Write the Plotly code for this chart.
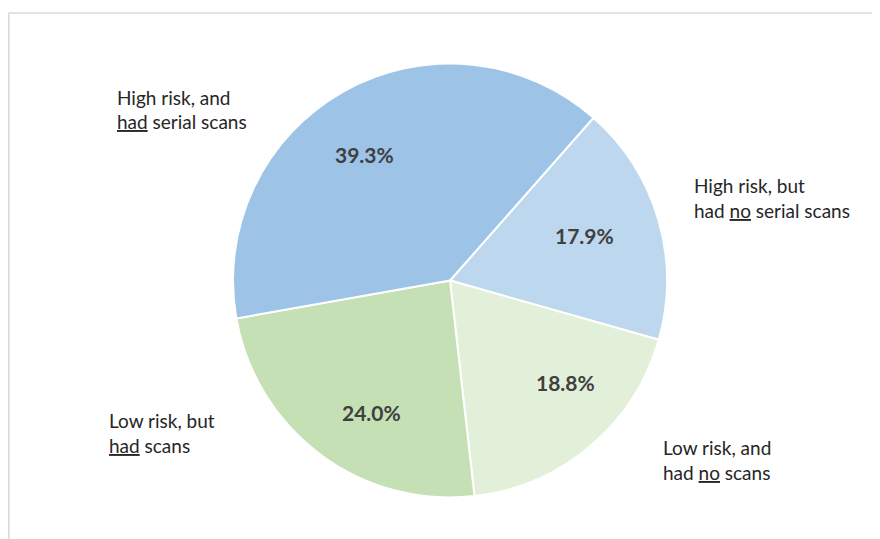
import plotly.graph_objects as go

# ---- data ----
categories = ["High risk, but had no serial scans", "Low risk, and had no scans",
              "Low risk, but had scans", "High risk, and had serial scans"]
shares = [17.9, 18.8, 24.0, 39.3]
label_lines = [
    ["High risk, but", "had <u>no</u> serial scans"],
    ["Low risk, and", "had <u>no</u> scans"],
    ["Low risk, but", "<u>had</u> scans"],
    ["High risk, and", "<u>had</u> serial scans"],
]
colors = ["#BDD7EE", "#E2F0D9", "#C5E0B4", "#9DC3E6"]

W, H = 880, 539
OFF = 8  # page body margin
CX, CY, R = 450, 280.5, 217
START_ANGLE = 41.4


def px(x):
    return (x - OFF) / W


def py(y):
    return 1 - (y - OFF) / H


fig = go.Figure()
fig.add_trace(go.Pie(
    labels=categories, values=shares, sort=False, direction="clockwise",
    rotation=START_ANGLE, marker=dict(colors=colors, line=dict(color="white", width=2)),
    textinfo="none", hoverinfo="label+percent", showlegend=False,
    domain=dict(x=[px(CX - R), px(CX + R)], y=[py(CY + R), py(CY - R)]),
))

annotations = []
# percentage labels (centre positions in page pixels)
pct_pos = [(584, 235.5), (565.5, 382.5), (371, 412), (364, 154.5)]
for (x, y), v in zip(pct_pos, shares):
    annotations.append(dict(
        x=px(x), y=py(y), xref="paper", yref="paper", showarrow=False,
        text=f"<b>{v:.1f}%</b>", font=dict(family="Lato", size=21, color="#404040"),
        xanchor="center", yanchor="middle"))

# category labels (left x, first line centre y)
label_pos = [(692, 185.5), (661, 447.5), (107, 420.5), (115, 97)]
for (lx, ly), lines in zip(label_pos, label_lines):
    for i, t in enumerate(lines):
        annotations.append(dict(
            x=px(lx), y=py(ly + i * 24.5), xref="paper", yref="paper", showarrow=False,
            text=t, font=dict(family="Lato", size=19, color="#262626"),
            xanchor="left", yanchor="middle"))

fig.update_layout(
    width=W, height=H, margin=dict(l=0, r=0, t=0, b=0),
    paper_bgcolor="white", plot_bgcolor="white",
    annotations=annotations,
    shapes=[
        dict(type="line", xref="paper", yref="paper", x0=px(8.8), x1=1, y0=py(13), y1=py(13),
             line=dict(color="#D9D9D9", width=1.5)),
        dict(type="line", xref="paper", yref="paper", x0=px(8.8), x1=px(8.8), y0=py(13), y1=0,
             line=dict(color="#D9D9D9", width=1.5)),
    ],
)

fig.write_html("out.html")
